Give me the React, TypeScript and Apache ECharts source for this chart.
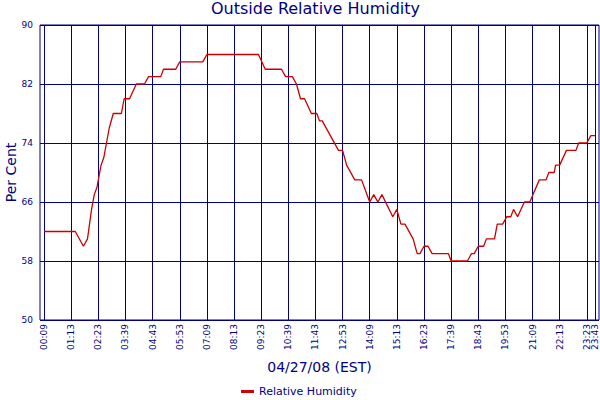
import React, { useEffect, useRef } from "react";
import * as echarts from "echarts";

// Sample positions (reading index) where the humidity trace changes direction
const sampleIndex = [
  0, 23, 29, 32, 35, 37, 39, 42, 44, 46, 48, 51, 57, 59, 63, 68, 74, 77, 86, 88,
  97, 100, 117, 120, 158, 163, 175, 178, 183, 186, 189, 192, 197, 201, 203, 205,
  217, 220, 223, 229, 234, 240, 243, 246, 249, 257, 260, 263, 266, 272, 275, 277,
  280, 283, 286, 298, 300, 312, 315, 317, 320, 324, 326, 332, 334, 338, 341, 344,
  346, 349, 354, 358, 365, 370, 372, 376, 377, 380, 385, 392, 394, 400, 403, 406,
];
// Relative humidity (%) at those positions
const humidity = [
  62, 62, 60, 61, 65, 67, 68, 71, 72, 74, 76, 78, 78, 80, 80, 82, 82, 83, 83, 84,
  84, 85, 85, 86, 86, 84, 84, 83, 83, 82, 80, 80, 78, 78, 77, 77,
  73, 73, 71, 69, 69, 66, 67, 66, 67, 64, 65, 63, 63, 61, 59, 59,
  60, 60, 59, 59, 58, 58, 59, 59, 60, 60, 61, 61, 63, 63, 64, 64,
  65, 64, 66, 66, 69, 69, 70, 70, 71, 71, 73, 73, 74, 74, 75, 75,
];
// Tick positions (reading index) and their time labels
const tickIndex = [0, 20, 40, 60, 80, 100, 120, 140, 160, 180, 200, 220, 240, 260, 280, 300, 320, 340, 360, 380, 400, 406];
const tickLabels = [
  "00:09", "01:13", "02:23", "03:39", "04:43", "05:53", "07:09", "08:13", "09:23", "10:39", "11:43",
  "12:53", "14:09", "15:13", "16:23", "17:39", "18:43", "19:53", "21:09", "22:13", "23:23", "23:43",
];

const NAVY = "#000080";
const FONT = "DejaVu Sans";
const X_MIN = -3;
const X_MAX = 409;

export default function App() {
  const ref = useRef<HTMLDivElement>(null);
  useEffect(() => {
    if (!ref.current) return;
    const chart = echarts.init(ref.current, null, { renderer: "svg" });
    const labelMap: Record<number, string> = {};
    tickIndex.forEach((t, i) => (labelMap[t] = tickLabels[i]));
    const data = sampleIndex.map((x, i) => [x, humidity[i]]);
    // a trailing blank label at the axis end keeps the two close final labels from being dropped
    const labelValues = [...tickIndex, X_MAX];
    chart.setOption({
      animation: false,
      backgroundColor: "#ffffff",
      textStyle: { fontFamily: FONT },
      title: {
        text: "Outside Relative Humidity",
        left: 211,
        top: 0,
        padding: 0,
        textStyle: { color: NAVY, fontSize: 16, fontWeight: "normal", fontFamily: FONT },
      },
      legend: {
        left: 241,
        top: 386,
        padding: 0,
        icon: "rect",
        itemWidth: 13,
        itemHeight: 3,
        textStyle: { color: NAVY, fontSize: 11, fontFamily: FONT },
        data: ["Relative Humidity"],
      },
      grid: {
        left: 40,
        right: 1,
        top: 25,
        bottom: 80,
        show: true,
        borderColor: NAVY,
        borderWidth: 1,
        containLabel: false,
        outerBoundsMode: "none",
      },
      xAxis: {
        type: "value",
        min: X_MIN,
        max: X_MAX,
        name: "04/27/08 (EST)",
        nameLocation: "middle",
        nameGap: 40,
        nameMoveOverlap: false,
        nameTextStyle: { color: NAVY, fontSize: 14, fontFamily: FONT },
        axisLine: { show: false },
        axisTick: { show: false, customValues: tickIndex },
        axisLabel: {
          customValues: labelValues,
          rotate: 90,
          margin: 4,
          color: NAVY,
          fontSize: 9,
          fontFamily: FONT,
          hideOverlap: false,
          showMinLabel: true,
          showMaxLabel: false,
          formatter: (v: number) => labelMap[v] ?? "",
        },
        splitLine: { show: true, lineStyle: { color: NAVY, width: 1 } },
      },
      yAxis: {
        type: "value",
        min: 50,
        max: 90,
        interval: 8,
        name: "Per Cent",
        nameLocation: "middle",
        nameGap: 22,
        nameMoveOverlap: false,
        nameTextStyle: { color: NAVY, fontSize: 14, fontFamily: FONT },
        axisLine: { show: false },
        axisTick: { show: false },
        axisLabel: { color: NAVY, fontSize: 9, fontFamily: FONT, margin: 7 },
        splitLine: { show: true, lineStyle: { color: NAVY, width: 1 } },
      },
      series: [
        {
          name: "Relative Humidity",
          type: "line",
          data,
          symbol: "none",
          color: "#cc0000",
          lineStyle: { color: "#cc0000", width: 1.3 },
        },
      ],
    });
    return () => chart.dispose();
  }, []);
  return (
    <div
      ref={ref}
      style={{ position: "fixed", left: 0, top: 0, width: 600, height: 400, background: "#fff" }}
    />
  );
}
